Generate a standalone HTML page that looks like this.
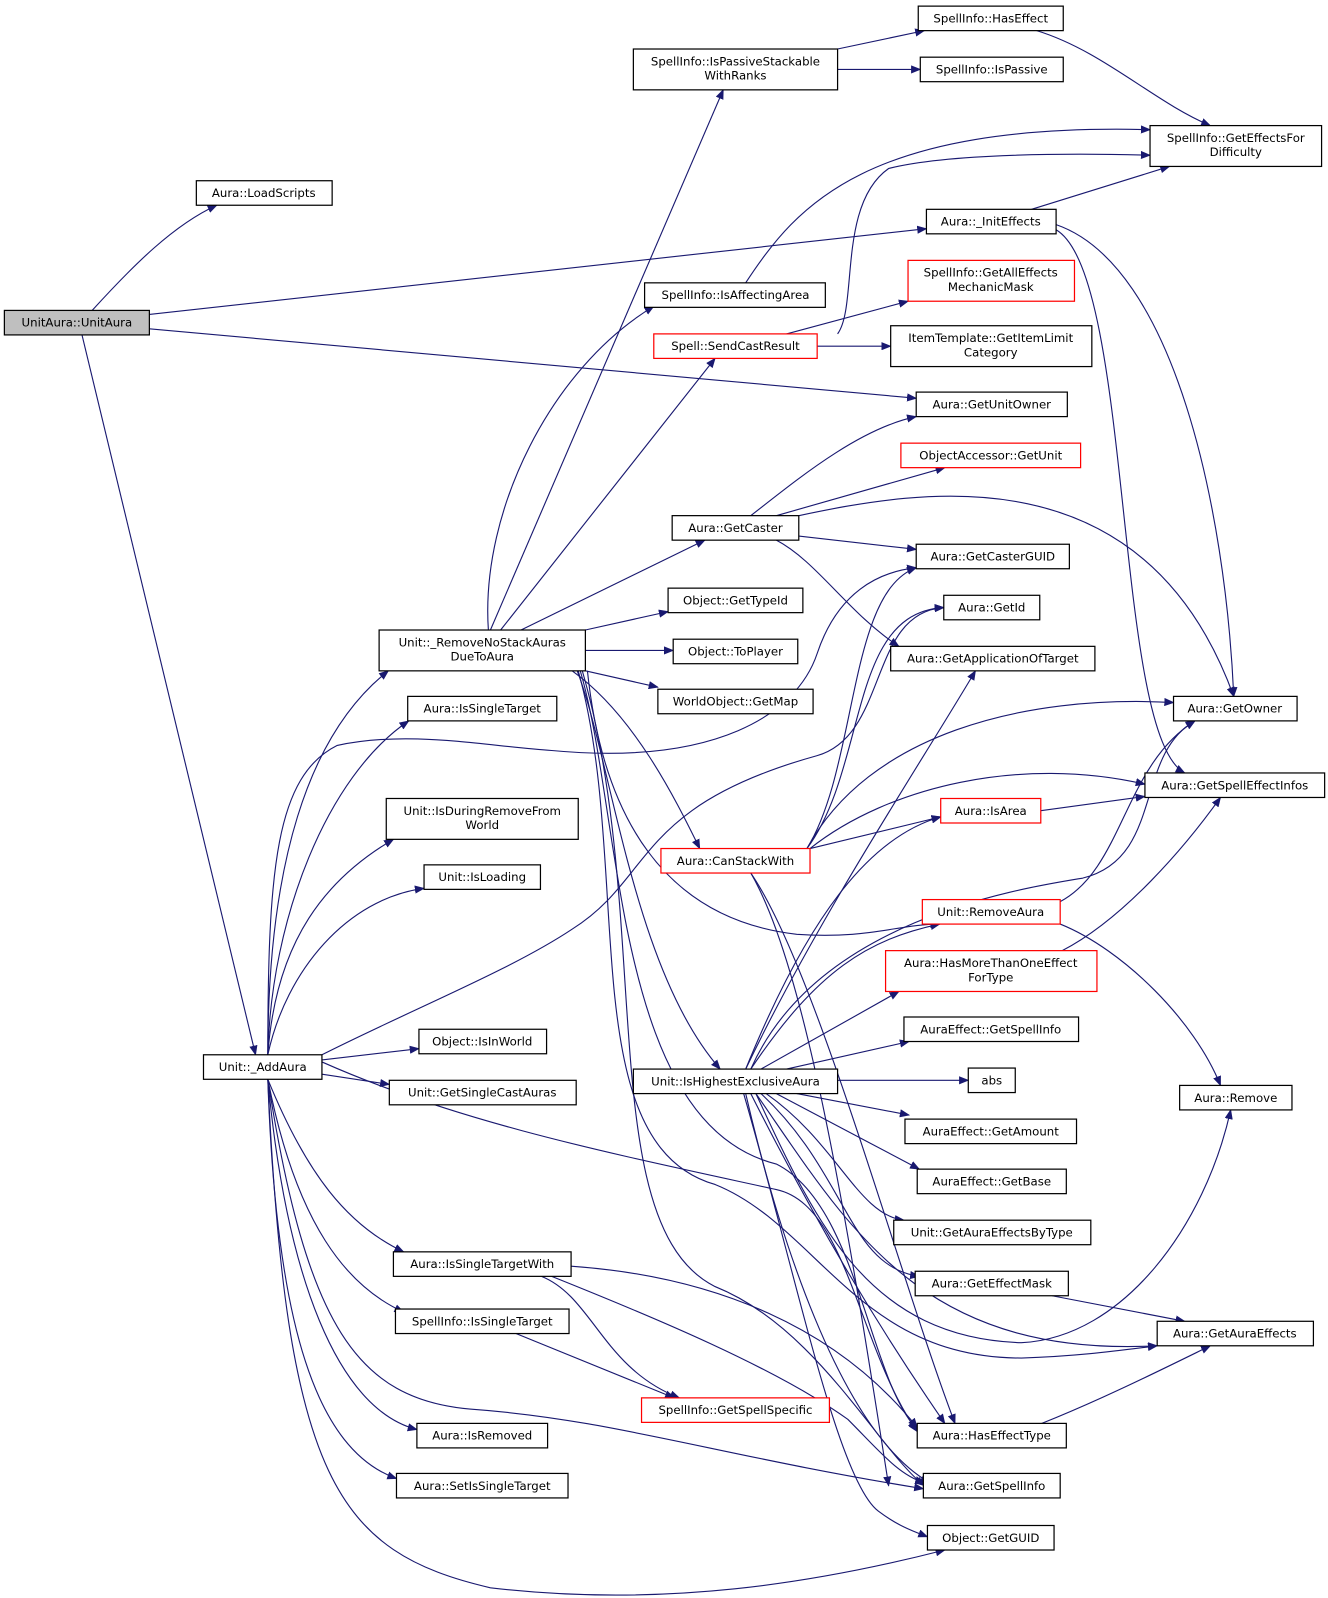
<!DOCTYPE html>
<html><head><meta charset="utf-8"><style>
html,body{margin:0;padding:0;background:#fff;}
svg{display:block;}
text{font-family:"DejaVu Sans","Liberation Sans",sans-serif;font-size:11.5px;fill:#000;text-anchor:middle;}
.b{fill:#fff;stroke:#000;stroke-width:1.2;}
.r{fill:#fff;stroke:#f00;stroke-width:1.2;}
.e{fill:none;stroke:#191970;stroke-width:1.1;marker-end:url(#a);}
</style></head><body>
<svg width="1328" height="1598" viewBox="0 0 1300 1565" xmlns="http://www.w3.org/2000/svg">
<defs><marker id="a" markerWidth="10" markerHeight="8" refX="9" refY="4" orient="auto" markerUnits="userSpaceOnUse"><path d="M0,0 L10,4 L0,8 z" fill="#191970"/></marker></defs>
<g>
<path class="e" d="M90,304 C130,260 170,220 212,201"/>
<path class="e" d="M146,308 L907,224"/>
<path class="e" d="M146,322 L897,390"/>
<path class="e" d="M80,328 L250,1033"/>
<path class="e" d="M262,1033 C262,850 300,720 380,657"/>
<path class="e" d="M262,1033 C265,900 320,760 400,706"/>
<path class="e" d="M262,1033 C270,920 320,860 385,822"/>
<path class="e" d="M262,1033 C280,950 340,880 415,870"/>
<path class="e" d="M315,1038 L410,1027"/>
<path class="e" d="M315,1052 L381,1062"/>
<path class="e" d="M262,1057 C300,1150 340,1200 395,1226"/>
<path class="e" d="M262,1057 C290,1200 340,1260 395,1285"/>
<path class="e" d="M262,1057 C280,1250 330,1380 408,1400"/>
<path class="e" d="M262,1057 C270,1300 310,1420 388,1448"/>
<path class="e" d="M262,1057 C280,1450 330,1520 480,1555 C650,1575 800,1550 925,1518"/>
<path class="e" d="M262,1057 C300,1300 350,1370 460,1380 C600,1390 700,1425 904,1458"/>
<path class="e" d="M262,1033 C262,850 270,760 330,730 C400,715 470,730 540,735 C700,750 780,700 800,640 C820,580 860,560 897,556"/>
<path class="e" d="M315,1033 C400,990 500,950 560,910 C640,860 620,790 800,740 C870,720 850,600 924,595"/>
<path class="e" d="M315,1040 C450,1100 600,1130 760,1165 C830,1180 840,1320 898,1402"/>
<path class="e" d="M480,617 L708,88"/>
<path class="e" d="M478,617 C470,500 540,360 640,300"/>
<path class="e" d="M490,617 L700,351"/>
<path class="e" d="M510,617 L690,529"/>
<path class="e" d="M573,617 L654,599"/>
<path class="e" d="M573,637 L659,637"/>
<path class="e" d="M573,657 L644,673"/>
<path class="e" d="M560,657 C620,700 660,780 685,831"/>
<path class="e" d="M565,657 C600,750 620,950 705,1047"/>
<path class="e" d="M575,657 C590,800 650,900 780,915 C850,920 880,905 920,905"/>
<path class="e" d="M570,657 C640,900 580,1200 700,1260 C800,1300 860,1420 905,1455"/>
<path class="e" d="M568,657 C610,800 600,1100 760,1140 C840,1180 850,1350 898,1400"/>
<path class="e" d="M566,657 C620,850 560,1120 700,1160 C800,1200 840,1330 1000,1330 C1060,1328 1100,1322 1133,1318"/>
<path class="e" d="M1010,205 L1145,163"/>
<path class="e" d="M1034,220 C1150,260 1200,500 1208,682"/>
<path class="e" d="M1034,225 C1110,270 1090,720 1160,757"/>
<path class="e" d="M820,48 L905,30"/>
<path class="e" d="M820,68 L901,68"/>
<path class="e" d="M1015,30 C1080,50 1130,100 1185,123"/>
<path class="e" d="M730,277 C780,200 850,120 1126,127"/>
<path class="e" d="M820,327 C840,300 820,200 870,165 C930,150 1050,150 1126,152"/>
<path class="e" d="M770,327 L889,295"/>
<path class="e" d="M800,339 L872,339"/>
<path class="e" d="M735,505 C780,470 840,420 897,408"/>
<path class="e" d="M760,505 L925,458"/>
<path class="e" d="M782,505 C900,480 1120,440 1208,682"/>
<path class="e" d="M782,525 L897,538"/>
<path class="e" d="M760,529 C800,550 830,600 880,633"/>
<path class="e" d="M790,831 C840,750 830,580 897,556"/>
<path class="e" d="M790,831 C850,750 830,600 924,595"/>
<path class="e" d="M790,831 C850,720 1000,680 1149,688"/>
<path class="e" d="M793,831 C870,770 1000,740 1121,768"/>
<path class="e" d="M793,831 L921,800"/>
<path class="e" d="M735,855 C790,950 830,1200 870,1455"/>
<path class="e" d="M735,855 C800,950 880,1250 935,1394"/>
<path class="e" d="M1019,794 L1121,780"/>
<path class="e" d="M1038,883 C1100,850 1100,750 1170,706"/>
<path class="e" d="M1038,905 C1100,930 1170,1000 1195,1063"/>
<path class="e" d="M1040,931 C1100,900 1160,830 1195,781"/>
<path class="e" d="M730,1047 C800,900 900,750 955,657"/>
<path class="e" d="M730,1047 C790,900 850,820 921,800"/>
<path class="e" d="M735,1047 C800,900 1000,870 1060,860 C1140,840 1110,740 1170,706"/>
<path class="e" d="M735,1047 C800,950 850,920 920,905"/>
<path class="e" d="M745,1047 L880,971"/>
<path class="e" d="M770,1047 L890,1020"/>
<path class="e" d="M820,1058 L948,1058"/>
<path class="e" d="M780,1071 L890,1092"/>
<path class="e" d="M760,1071 L900,1145"/>
<path class="e" d="M750,1071 C820,1120 840,1190 885,1195"/>
<path class="e" d="M745,1071 C830,1150 830,1240 900,1250"/>
<path class="e" d="M740,1071 C830,1200 900,1330 1133,1318"/>
<path class="e" d="M740,1071 C800,1200 850,1310 1000,1315 C1100,1310 1180,1200 1205,1087"/>
<path class="e" d="M735,1071 C800,1200 860,1300 925,1394"/>
<path class="e" d="M730,1071 C760,1200 820,1400 910,1452"/>
<path class="e" d="M728,1071 C780,1250 820,1450 860,1480 C880,1495 895,1500 908,1505"/>
<path class="e" d="M1030,1269 L1160,1294"/>
<path class="e" d="M1020,1394 C1080,1370 1140,1340 1185,1318"/>
<path class="e" d="M530,1250 C580,1270 590,1340 665,1369"/>
<path class="e" d="M540,1250 C640,1290 760,1340 830,1390 C860,1420 880,1445 905,1452"/>
<path class="e" d="M559,1240 C700,1250 820,1300 898,1398"/>
<path class="e" d="M505,1306 L660,1369"/>
</g>
<g>
<rect x="4" y="304" width="142" height="24" fill="#bfbfbf" stroke="#000" stroke-width="1.2"/><text x="75" y="320">UnitAura::UnitAura</text>
<rect class="b" x="192" y="177" width="133" height="24"/><text x="258" y="193">Aura::LoadScripts</text>
<rect class="b" x="199" y="1033" width="116" height="24"/><text x="257" y="1049">Unit::_AddAura</text>
<rect class="b" x="371" y="617" width="202" height="40"/><text x="472" y="633">Unit::_RemoveNoStackAuras</text><text x="472" y="647">DueToAura</text>
<rect class="b" x="399" y="682" width="146" height="24"/><text x="472" y="698">Aura::IsSingleTarget</text>
<rect class="b" x="378" y="782" width="188" height="40"/><text x="472" y="798">Unit::IsDuringRemoveFrom</text><text x="472" y="812">World</text>
<rect class="b" x="415" y="847" width="114" height="24"/><text x="472" y="863">Unit::IsLoading</text>
<rect class="b" x="410" y="1008" width="125" height="24"/><text x="472" y="1024">Object::IsInWorld</text>
<rect class="b" x="381" y="1058" width="183" height="24"/><text x="472" y="1074">Unit::GetSingleCastAuras</text>
<rect class="b" x="385" y="1226" width="174" height="24"/><text x="472" y="1242">Aura::IsSingleTargetWith</text>
<rect class="b" x="387" y="1282" width="170" height="24"/><text x="472" y="1298">SpellInfo::IsSingleTarget</text>
<rect class="b" x="408" y="1394" width="128" height="24"/><text x="472" y="1410">Aura::IsRemoved</text>
<rect class="b" x="388" y="1443" width="168" height="24"/><text x="472" y="1459">Aura::SetIsSingleTarget</text>
<rect class="b" x="620" y="48" width="200" height="40"/><text x="720" y="64">SpellInfo::IsPassiveStackable</text><text x="720" y="78">WithRanks</text>
<rect class="b" x="631" y="277" width="177" height="24"/><text x="720" y="293">SpellInfo::IsAffectingArea</text>
<rect class="r" x="640" y="327" width="160" height="24"/><text x="720" y="343">Spell::SendCastResult</text>
<rect class="b" x="658" y="505" width="124" height="24"/><text x="720" y="521">Aura::GetCaster</text>
<rect class="b" x="654" y="576" width="132" height="24"/><text x="720" y="592">Object::GetTypeId</text>
<rect class="b" x="659" y="626" width="122" height="24"/><text x="720" y="642">Object::ToPlayer</text>
<rect class="b" x="644" y="675" width="152" height="24"/><text x="720" y="691">WorldObject::GetMap</text>
<rect class="r" x="647" y="831" width="146" height="24"/><text x="720" y="847">Aura::CanStackWith</text>
<rect class="b" x="620" y="1047" width="200" height="24"/><text x="720" y="1063">Unit::IsHighestExclusiveAura</text>
<rect class="r" x="628" y="1369" width="184" height="24"/><text x="720" y="1385">SpellInfo::GetSpellSpecific</text>
<rect class="b" x="899" y="6" width="142" height="24"/><text x="970" y="22">SpellInfo::HasEffect</text>
<rect class="b" x="901" y="56" width="140" height="24"/><text x="971" y="72">SpellInfo::IsPassive</text>
<rect class="b" x="1126" y="123" width="168" height="40"/><text x="1210" y="139">SpellInfo::GetEffectsFor</text><text x="1210" y="153">Difficulty</text>
<rect class="b" x="907" y="205" width="127" height="24"/><text x="970" y="221">Aura::_InitEffects</text>
<rect class="r" x="889" y="255" width="163" height="40"/><text x="970" y="271">SpellInfo::GetAllEffects</text><text x="970" y="285">MechanicMask</text>
<rect class="b" x="872" y="319" width="197" height="40"/><text x="970" y="335">ItemTemplate::GetItemLimit</text><text x="970" y="349">Category</text>
<rect class="b" x="897" y="384" width="148" height="24"/><text x="971" y="400">Aura::GetUnitOwner</text>
<rect class="r" x="882" y="434" width="176" height="24"/><text x="970" y="450">ObjectAccessor::GetUnit</text>
<rect class="b" x="897" y="533" width="150" height="24"/><text x="972" y="549">Aura::GetCasterGUID</text>
<rect class="b" x="924" y="583" width="94" height="24"/><text x="971" y="599">Aura::GetId</text>
<rect class="b" x="872" y="633" width="200" height="24"/><text x="972" y="649">Aura::GetApplicationOfTarget</text>
<rect class="b" x="1149" y="682" width="121" height="24"/><text x="1209" y="698">Aura::GetOwner</text>
<rect class="b" x="1121" y="757" width="176" height="24"/><text x="1209" y="773">Aura::GetSpellEffectInfos</text>
<rect class="r" x="921" y="782" width="98" height="24"/><text x="970" y="798">Aura::IsArea</text>
<rect class="r" x="903" y="881" width="135" height="24"/><text x="970" y="897">Unit::RemoveAura</text>
<rect class="r" x="867" y="931" width="207" height="40"/><text x="970" y="947">Aura::HasMoreThanOneEffect</text><text x="970" y="961">ForType</text>
<rect class="b" x="885" y="996" width="171" height="24"/><text x="970" y="1012">AuraEffect::GetSpellInfo</text>
<rect class="b" x="948" y="1046" width="46" height="24"/><text x="971" y="1062">abs</text>
<rect class="b" x="886" y="1096" width="168" height="24"/><text x="970" y="1112">AuraEffect::GetAmount</text>
<rect class="b" x="898" y="1145" width="146" height="24"/><text x="971" y="1161">AuraEffect::GetBase</text>
<rect class="b" x="875" y="1195" width="193" height="24"/><text x="971" y="1211">Unit::GetAuraEffectsByType</text>
<rect class="b" x="896" y="1245" width="150" height="24"/><text x="971" y="1261">Aura::GetEffectMask</text>
<rect class="b" x="1155" y="1063" width="110" height="24"/><text x="1210" y="1079">Aura::Remove</text>
<rect class="b" x="1133" y="1294" width="153" height="24"/><text x="1209" y="1310">Aura::GetAuraEffects</text>
<rect class="b" x="898" y="1394" width="146" height="24"/><text x="971" y="1410">Aura::HasEffectType</text>
<rect class="b" x="904" y="1443" width="134" height="24"/><text x="971" y="1459">Aura::GetSpellInfo</text>
<rect class="b" x="908" y="1494" width="124" height="24"/><text x="970" y="1510">Object::GetGUID</text>
</g>
</svg>
</body></html>
